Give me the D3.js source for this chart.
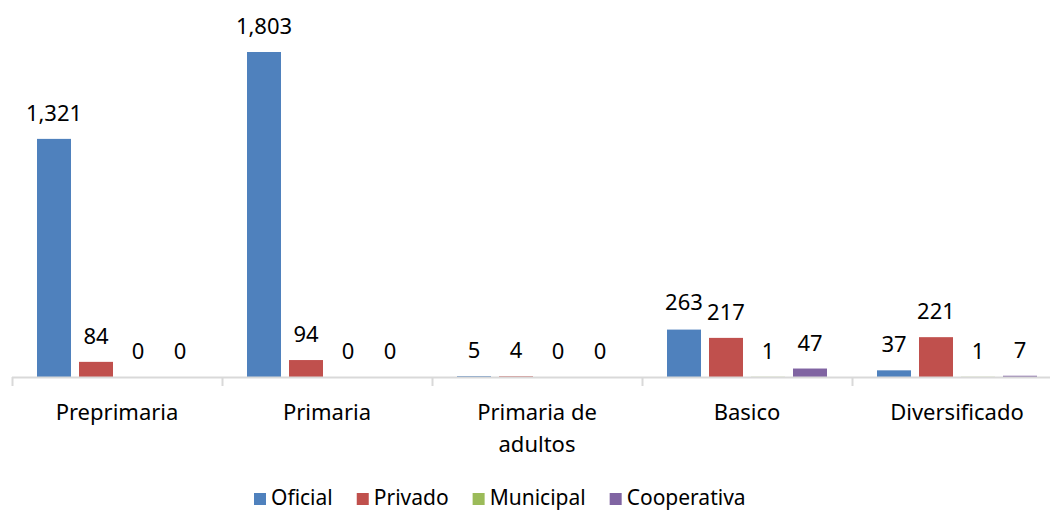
<!DOCTYPE html>
<meta charset="utf-8">
<style>
body { margin: 0; background: #fff; }
svg { font-family: "Noto Sans", Calibri, Arial, sans-serif; }
.val { font-size: 22px; fill: #000; text-anchor: middle; }
.cat { font-size: 22px; fill: #000; text-anchor: middle; }
.leg { font-size: 21px; fill: #000; }
</style>
<svg width="1050" height="512"></svg>
<script src="https://d3js.org/d3.v7.min.js"></script>
<script>

var categories = [["Preprimaria"], ["Primaria"], ["Primaria de", "adultos"], ["Basico"], ["Diversificado"]];
var seriesNames = ["Oficial", "Privado", "Municipal", "Cooperativa"];
var colors = ["#4F81BD", "#C0504D", "#9BBB59", "#8064A2"];

var oficial     = [1321, 1803, 5, 263, 37];
var privado     = [84, 94, 4, 217, 221];
var municipal   = [0, 0, 0, 1, 1];
var cooperativa = [0, 0, 0, 47, 7];

var values = [oficial, privado, municipal, cooperativa];

var svg = d3.select("svg");
var baseY = 377;

var x0 = d3.scaleBand()
    .domain(d3.range(categories.length))
    .range([12, 1062]);

var x1 = d3.scaleBand()
    .domain(d3.range(seriesNames.length))
    .range([25, x0.bandwidth() - 25])
    .paddingInner(8 / 42);

var y = d3.scaleLinear()
    .domain([0, 1803])
    .range([baseY, 52]);

// bars
var rows = [];
categories.forEach(function(c, i) {
    values.forEach(function(s, j) {
        rows.push({ cat: i, ser: j, v: s[i] });
    });
});

var g = svg.append("g");

g.selectAll("rect")
    .data(rows)
    .enter()
    .append("rect")
    .attr("x", function(d) { return x0(d.cat) + x1(d.ser); })
    .attr("width", x1.bandwidth())
    .attr("y", function(d) { return y(d.v); })
    .attr("height", function(d) { return baseY - y(d.v); })
    .attr("fill", function(d) { return colors[d.ser]; });

g.selectAll("text.val")
    .data(rows)
    .enter()
    .append("text")
    .attr("class", "val")
    .attr("x", function(d) { return x0(d.cat) + x1(d.ser) + x1.bandwidth() / 2; })
    .attr("y", function(d) { return y(d.v) - 18 - (d.cat == 3 && d.ser == 0 ? 2 : 0); })
    .text(function(d) { return d3.format(",")(d.v); });

// axis
svg.append("line")
    .attr("x1", 12).attr("x2", 1050)
    .attr("y1", baseY + 0.5).attr("y2", baseY + 0.5)
    .attr("stroke", "#D9D9D9").attr("stroke-width", 2);

svg.selectAll("line.tick")
    .data(d3.range(categories.length))
    .enter()
    .append("line")
    .attr("class", "tick")
    .attr("x1", function(d) { return x0(d) + 0.5; })
    .attr("x2", function(d) { return x0(d) + 0.5; })
    .attr("y1", baseY)
    .attr("y2", baseY + 9)
    .attr("stroke", "#D9D9D9").attr("stroke-width", 2);

var cats = svg.selectAll("text.cat")
    .data(categories)
    .enter()
    .append("text")
    .attr("class", "cat")
    .attr("x", function(d, i) { return x0(i) + x0.bandwidth() / 2; })
    .attr("y", 420);

cats.selectAll("tspan")
    .data(function(d) { return d; })
    .enter()
    .append("tspan")
    .attr("x", function() { return d3.select(this.parentNode).attr("x"); })
    .attr("dy", function(d, i) { return i == 0 ? 0 : 32; })
    .text(function(d) { return d; });

// legend, centred under the plot
var leg = svg.append("g");
var lx = 0;
seriesNames.forEach(function(name, i) {
    leg.append("rect")
        .attr("x", lx).attr("y", 493)
        .attr("width", 12).attr("height", 12)
        .attr("fill", colors[i]);
    var t = leg.append("text")
        .attr("class", "leg")
        .attr("x", lx + 17).attr("y", 505)
        .text(name);
    lx += 17 + t.node().getComputedTextLength() + (i < seriesNames.length - 1 ? 24 : 0);
});
leg.attr("transform", "translate(" + Math.round(500 - lx / 2) + ",0)");

</script>
